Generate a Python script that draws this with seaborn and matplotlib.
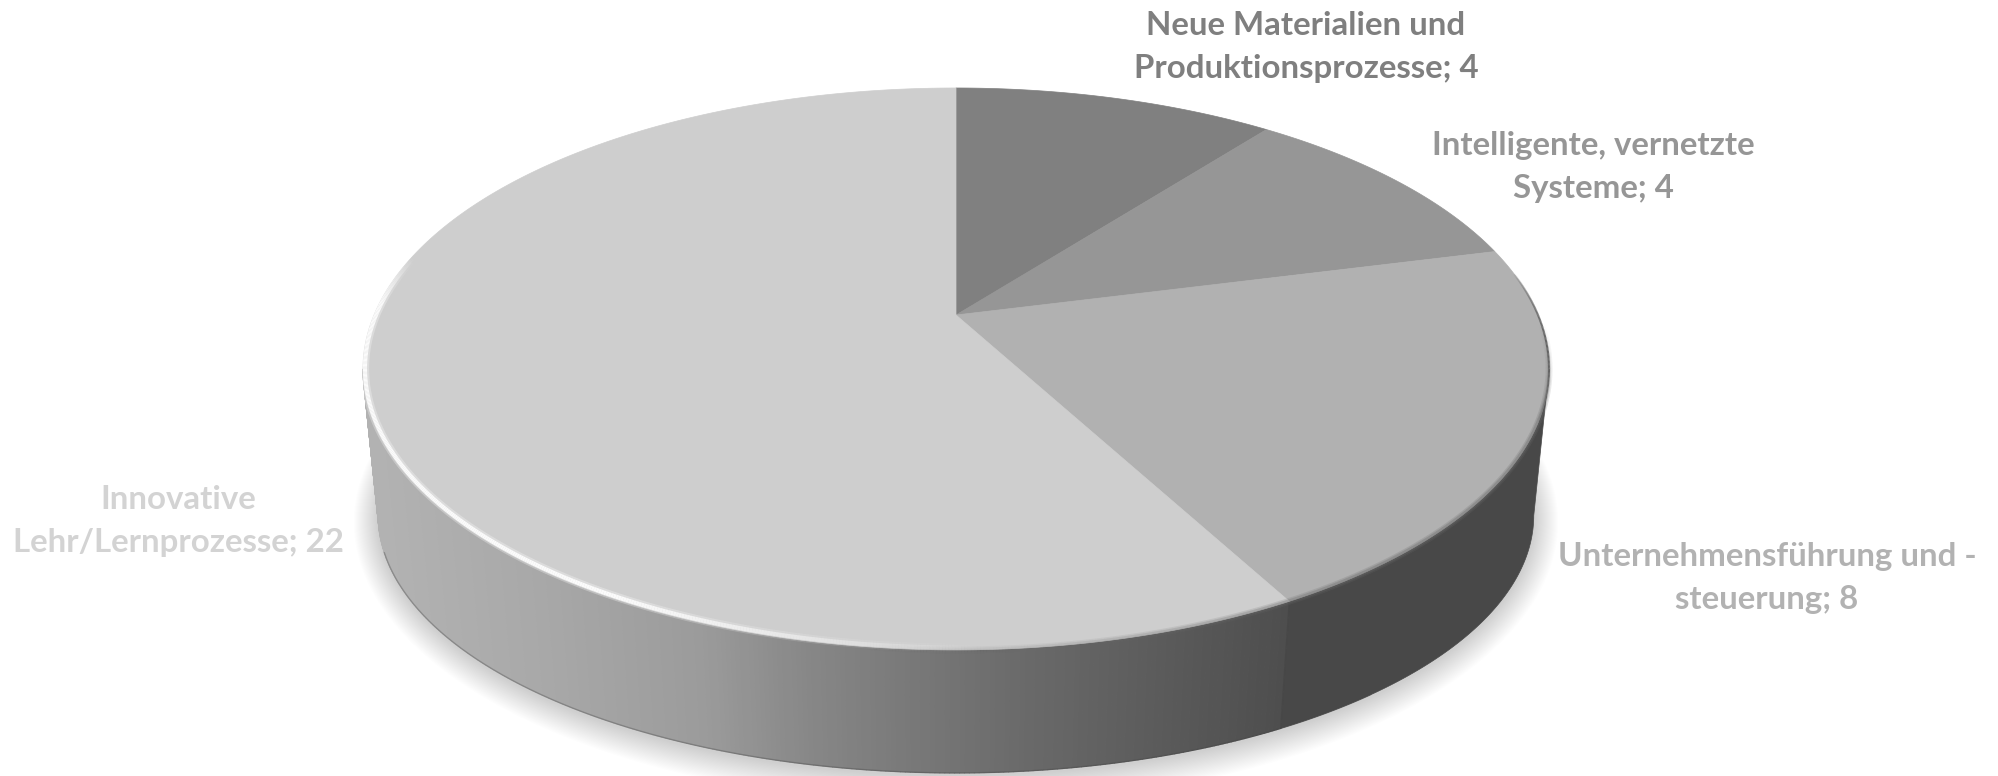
import numpy as np
import matplotlib
matplotlib.use("Agg")
import matplotlib.pyplot as plt
from matplotlib.collections import LineCollection, PolyCollection
from matplotlib.colors import to_rgb
import seaborn as sns

categories = [
    "Neue Materialien und\nProduktionsprozesse",
    "Intelligente, vernetzte\nSysteme",
    "Unternehmensführung und -\nsteuerung",
    "Innovative\nLehr/Lernprozesse",
]
values = [4, 4, 8, 22]
face_colors = ["#808080", "#969696", "#b1b1b1", "#cecece"]
label_colors = ["#7f7f7f", "#969696", "#b2b2b2", "#d3d3d3"]
label_centers = [(1306, 47), (1593, 167), (1767, 578), (178, 521)]

# Perspective of the disc: top face and bottom rim as projected circles
TILT = 0.192
TOP = dict(cx=956, cy=315, sx=582, sy=270.6)
BOTTOM = dict(cx=956, cy=466, sx=567, sy=248)
# Angle range of the wall visible to the viewer (clockwise from twelve o'clock)
WALL_START, WALL_END = 101.1, 258.9
# Wall shading of the large slice across the drawing
wall_x = [377, 540, 700, 807, 900, 1030, 1285]
wall_grey = [178, 168, 155, 135, 122, 105, 78]
WALL_DARK = "#484848"


def project(angle_deg, cx, cy, sx, sy, grow=0.0):
    a = np.radians(np.asarray(angle_deg, dtype=float))
    x, y = np.sin(a), np.cos(a)
    w = 1 + TILT * y
    return cx + (sx + grow) * x / w, cy - (sy + grow) * y / w


def arc(start, stop, step=0.25):
    n = max(int(abs(stop - start) / step), 2)
    return np.linspace(start, stop, n)


def fading_line(axis, angles, color, width, alpha, fade, grow=0.0, zorder=5):
    px, py = project(angles, TOP["cx"], TOP["cy"], TOP["sx"], TOP["sy"], grow)
    pts = np.column_stack([px, py])
    segs = np.stack([pts[:-1], pts[1:]], axis=1)
    rgb = to_rgb(color)
    axis.add_collection(
        LineCollection(segs, colors=[(*rgb, f * alpha) for f in fade], lw=width, zorder=zorder)
    )


sns.set_theme(style="white")
plt.rcParams["font.family"] = ["Lato", "DejaVu Sans"]

fig, ax = plt.subplots(figsize=(19.98, 7.76), dpi=100)
ax.set_position([0, 0, 1, 1])
ax.set_xlim(0, 1998)
ax.set_ylim(776, 0)
ax.axis("off")

edges = np.cumsum([0] + values) / sum(values) * 360

# Soft drop shadow under the disc
ring = arc(0, 360, 1)
for grow in np.arange(1, 25):
    sx_, sy_ = project(ring, BOTTOM["cx"], BOTTOM["cy"] + 2, BOTTOM["sx"], BOTTOM["sy"], grow)
    ax.fill(sx_, sy_, color="black", alpha=0.0065, lw=0, zorder=1)

# Wall of the third slice: flat dark
angles = arc(WALL_START, edges[3])
tx, ty = project(angles, **TOP)
bx, by = project(angles, **BOTTOM)
ax.fill(np.r_[tx, bx[::-1]], np.r_[ty, by[::-1]], color=WALL_DARK, lw=0.5, zorder=2)

# Wall of the largest slice: horizontal grey ramp
angles = arc(edges[3], WALL_END, 0.4)
tx, ty = project(angles, **TOP)
bx, by = project(angles, **BOTTOM)
quads = [
    [(tx[i], ty[i]), (tx[i + 1], ty[i + 1]), (bx[i + 1], by[i + 1]), (bx[i], by[i])]
    for i in range(len(angles) - 1)
]
ramp = sns.blend_palette(["#000000", "#ffffff"], 256)
mids = 0.5 * (tx[:-1] + tx[1:])
shades = [ramp[int(round(v))] for v in np.interp(mids, wall_x, wall_grey)]
ax.add_collection(PolyCollection(quads, facecolors=shades, edgecolors=shades, lw=0.8, zorder=2))

# Darker lower lip of the wall
bx, by = project(arc(edges[3] - 10, WALL_END - 8), **BOTTOM)
ax.plot(bx, by, color="#444444", lw=1.0, alpha=0.35, zorder=3)

# Seam between the two visible wall sections
tx, ty = project(edges[3], **TOP)
bx, by = project(edges[3], **BOTTOM)
ax.plot([tx, bx], [ty, by], color="#404040", lw=1.0, alpha=0.45, zorder=3)

# Top face, one wedge per value
for i, color in enumerate(face_colors):
    px, py = project(arc(edges[i], edges[i + 1]), **TOP)
    ax.fill(
        np.r_[TOP["cx"], px],
        np.r_[TOP["cy"], py],
        facecolor=color,
        edgecolor=color,
        lw=0.5,
        zorder=4,
    )

# Blurred front rim where the dark wall meets the top face
angles = arc(edges[2] + 16, edges[3] + 36)
n = len(angles) - 1
t = np.linspace(0, 1, n)
fade = np.clip(t / 0.2, 0, 1) * np.clip((1 - t) / 0.45, 0, 1)
fading_line(ax, angles, "#6a6a6a", 5, 0.22, fade)
fading_line(ax, angles, "#6a6a6a", 3, 0.35, fade)

# Thin dark contour on the right flank
angles = arc(edges[2] + 5, edges[2] + 36)
fade = np.sin(np.linspace(0, np.pi, len(angles) - 1)) ** 0.7
fading_line(ax, angles, "#505050", 1.5, 0.8, fade)

# Glossy highlight along the left and front rim of the largest slice
angles = arc(edges[3] + 26, 283)
t = np.linspace(0, 1, len(angles) - 1)
fade = np.clip(t / 0.3, 0, 1) * np.clip((1 - t) / 0.1, 0, 1)
fading_line(ax, angles, "white", 6, 0.3, fade, grow=-2)
fading_line(ax, angles, "white", 3, 0.9, fade, grow=-2, zorder=6)

# Data labels
for cat, val, color, (lx, ly) in zip(categories, values, label_colors, label_centers):
    ax.text(
        lx, ly, f"{cat}; {val}",
        color=color, fontsize=23.8, fontweight="bold",
        ha="center", va="center", linespacing=1.6, multialignment="center", zorder=7,
    )

fig.savefig("out.png", dpi=100, facecolor="white")
